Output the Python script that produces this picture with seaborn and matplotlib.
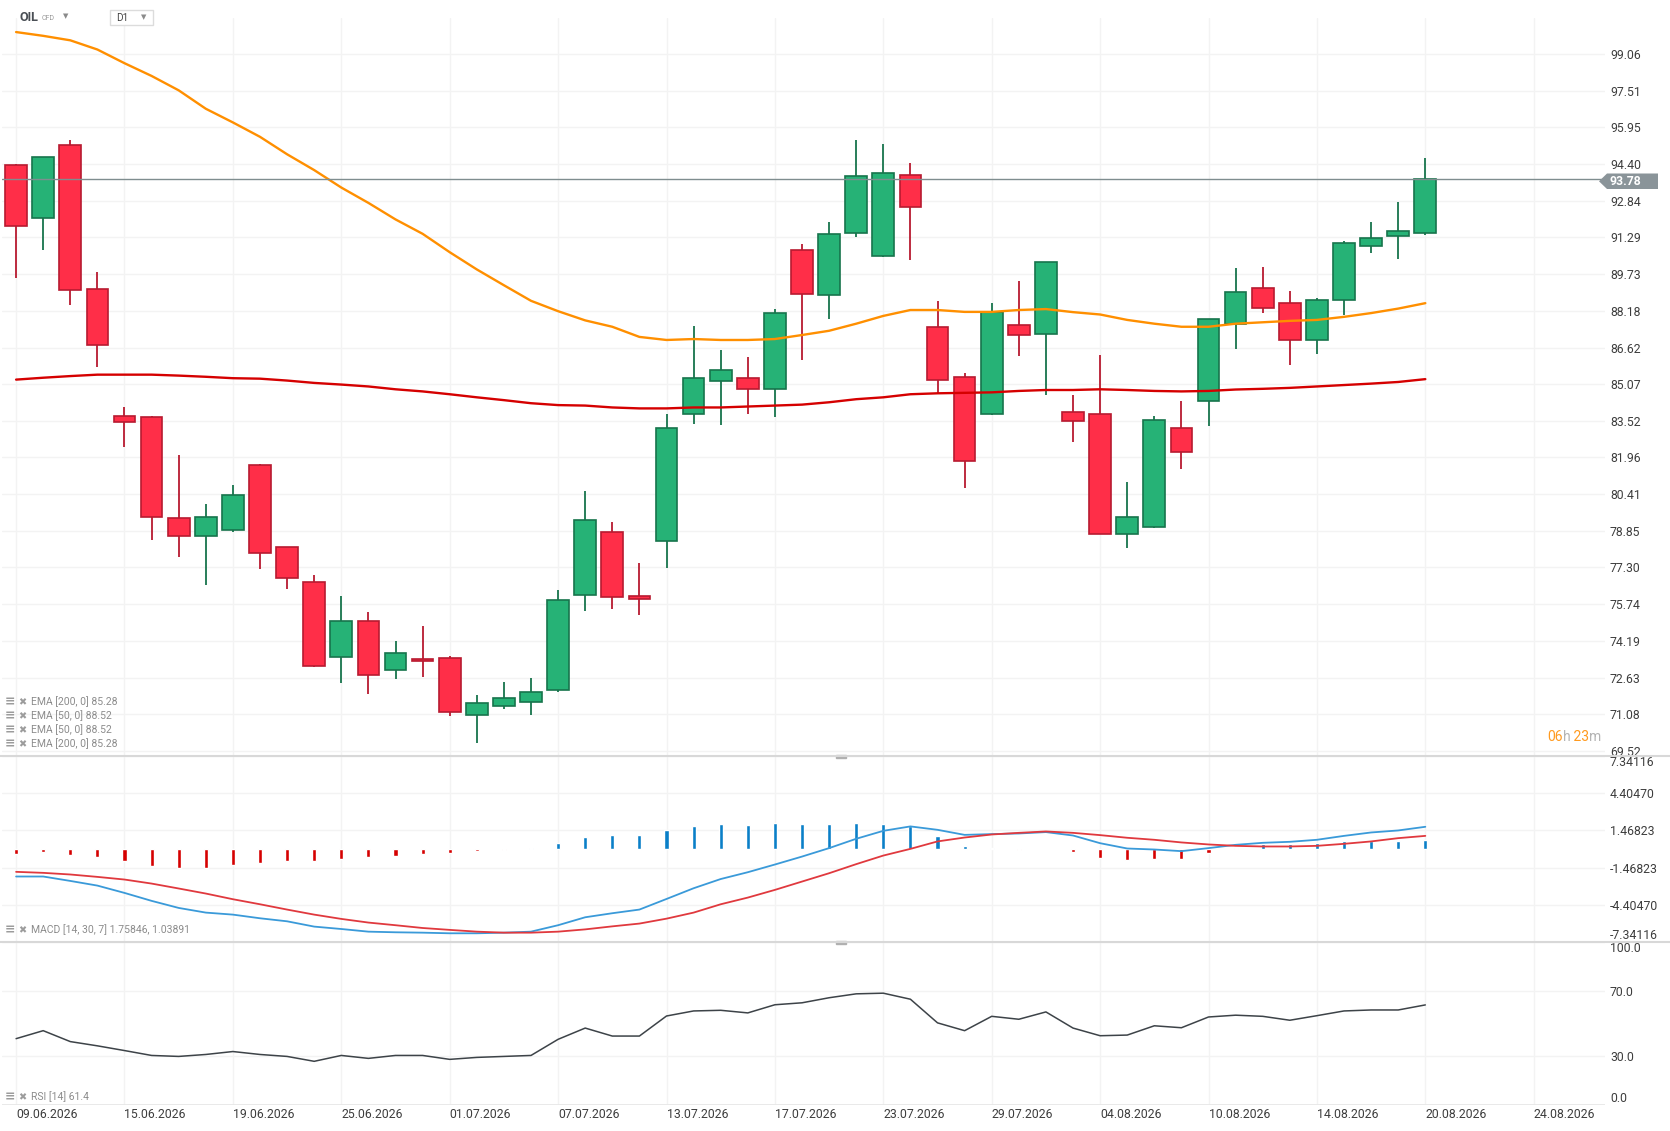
import numpy as np
import matplotlib
matplotlib.use("Agg")
import matplotlib.pyplot as plt
import seaborn as sns
from matplotlib.lines import Line2D
from matplotlib.patches import Polygon, Rectangle

# ==========================
# Data
# ==========================
date_labels = ["09.06.2026", "15.06.2026", "19.06.2026", "25.06.2026", "01.07.2026",
               "07.07.2026", "13.07.2026", "17.07.2026", "23.07.2026", "29.07.2026",
               "04.08.2026", "10.08.2026", "14.08.2026", "20.08.2026", "24.08.2026"]

opens = [94.37, 92.13, 95.20, 89.10, 83.72, 83.68, 79.39, 78.64, 78.87, 81.63,
         78.18, 76.69, 73.52, 75.05, 72.96, 73.43, 73.47, 71.03, 71.42, 71.59,
         72.10, 76.13, 78.81, 76.09, 78.43, 83.81, 85.20, 85.32, 84.85, 90.74,
         88.85, 91.47, 90.49, 93.93, 87.50, 85.39, 83.81, 87.58, 87.21, 83.89,
         83.79, 78.70, 79.03, 83.21, 84.37, 87.63, 89.14, 88.50, 86.96, 88.64,
         90.91, 91.34, 91.47]
highs = [94.40, 94.70, 95.41, 89.80, 84.12, 83.72, 82.07, 79.99, 80.80, 81.67,
         78.18, 76.96, 76.09, 75.42, 74.20, 74.82, 73.53, 71.88, 72.46, 72.60,
         76.34, 80.55, 79.22, 77.50, 83.81, 87.52, 86.51, 86.22, 88.27, 91.01,
         91.94, 95.41, 95.26, 94.45, 88.58, 85.55, 88.52, 89.45, 90.24, 84.62,
         86.30, 80.92, 83.72, 84.37, 87.83, 90.01, 90.05, 89.02, 88.73, 91.13,
         91.94, 92.77, 94.66]
lows = [89.56, 90.74, 88.43, 85.78, 82.40, 78.47, 77.75, 76.57, 78.80, 77.25,
        76.40, 73.08, 72.40, 71.94, 72.58, 72.66, 71.01, 69.87, 71.32, 71.03,
        72.04, 75.44, 75.55, 75.30, 77.29, 83.37, 83.33, 83.79, 83.68, 86.11,
        87.83, 91.32, 90.45, 90.32, 84.68, 80.65, 83.75, 86.28, 84.60, 82.60,
        78.70, 78.12, 78.95, 81.48, 83.29, 86.57, 88.08, 85.86, 86.36, 88.00,
        90.61, 90.39, 91.40]
closes = [91.76, 94.70, 89.06, 86.73, 83.45, 79.45, 78.64, 79.43, 80.38, 77.93,
          76.84, 73.14, 75.01, 72.75, 73.68, 73.33, 71.17, 71.57, 71.75, 72.00,
          75.90, 79.31, 76.03, 75.98, 83.23, 85.32, 85.65, 84.85, 88.10, 88.89,
          91.42, 93.89, 94.02, 92.59, 85.24, 81.80, 88.14, 87.17, 90.24, 83.50,
          78.70, 79.43, 83.56, 82.21, 87.83, 88.97, 88.31, 86.92, 88.64, 91.07,
          91.28, 91.57, 93.78]

ema50 = [99.99, 99.83, 99.64, 99.25, 98.67, 98.13, 97.52, 96.74, 96.16, 95.55, 94.81,
         94.14, 93.40, 92.75, 92.05, 91.44, 90.66, 89.93, 89.26, 88.60, 88.16, 87.77,
         87.50, 87.07, 86.94, 86.98, 86.94, 86.94, 86.98, 87.15, 87.33, 87.63,
         87.96, 88.21, 88.21, 88.13, 88.13, 88.21, 88.25, 88.12, 88.02, 87.79, 87.63,
         87.50, 87.50, 87.63, 87.69, 87.75, 87.79, 87.92, 88.08, 88.27, 88.50]
ema200 = [85.26, 85.34, 85.41, 85.47, 85.47, 85.47, 85.43, 85.38, 85.32, 85.30, 85.22,
          85.12, 85.05, 84.97, 84.85, 84.76, 84.64, 84.51, 84.39, 84.26, 84.18, 84.16,
          84.08, 84.04, 84.04, 84.08, 84.08, 84.12, 84.16, 84.20, 84.30, 84.43,
          84.51, 84.64, 84.68, 84.70, 84.72, 84.78, 84.82, 84.82, 84.85, 84.82, 84.78,
          84.76, 84.78, 84.84, 84.87, 84.91, 84.97, 85.03, 85.09, 85.16, 85.28]

macd_line = [-2.18, -2.18, -2.53, -2.90, -3.48, -4.11, -4.67, -5.04, -5.20, -5.49,
             -5.73, -6.15, -6.34, -6.55, -6.60, -6.63, -6.68, -6.68, -6.63, -6.55,
             -6.04, -5.41, -5.09, -4.80, -3.96, -3.11, -2.38, -1.84, -1.23, -0.60,
             0.07, 0.81, 1.44, 1.79, 1.52, 1.12, 1.18, 1.23, 1.34, 1.07,
             0.46, 0.04, -0.04, -0.17, 0.07, 0.33, 0.49, 0.57, 0.73, 1.04,
             1.31, 1.47, 1.76]
macd_signal = [-1.81, -1.89, -2.02, -2.21, -2.42, -2.74, -3.13, -3.53, -3.98, -4.38,
               -4.80, -5.20, -5.54, -5.83, -6.04, -6.26, -6.41, -6.55, -6.63, -6.63,
               -6.55, -6.37, -6.13, -5.91, -5.52, -5.04, -4.38, -3.85, -3.24, -2.58,
               -1.92, -1.20, -0.52, 0.01, 0.60, 0.91, 1.15, 1.28, 1.39, 1.28,
               1.10, 0.89, 0.73, 0.52, 0.36, 0.25, 0.20, 0.20, 0.25, 0.41,
               0.60, 0.86, 1.04]
macd_hist = [-0.37, -0.20, -0.44, -0.67, -0.94, -1.31, -1.49, -1.49, -1.26, -1.10,
             -0.94, -0.94, -0.78, -0.67, -0.52, -0.38, -0.28, -0.12, -0.05, 0.09,
             0.49, 0.97, 1.12, 1.12, 1.52, 1.84, 2.00, 1.92, 2.08, 2.00,
             2.00, 2.08, 2.00, 1.79, 1.04, 0.25, 0.09, -0.05, 0.00, -0.22,
             -0.70, -0.86, -0.78, -0.78, -0.30, 0.05, 0.41, 0.41, 0.49, 0.65,
             0.65, 0.65, 0.72]

rsi = [40.7, 45.6, 38.9, 36.3, 33.4, 30.4, 29.8, 31.0, 32.8, 31.0,
       29.8, 26.8, 30.4, 28.6, 30.4, 30.4, 28.0, 29.2, 29.8, 30.4,
       40.3, 47.2, 42.3, 42.3, 54.6, 57.7, 58.1, 56.5, 61.5, 62.7,
       65.8, 68.2, 68.6, 64.9, 50.4, 45.6, 54.4, 52.6, 57.1, 47.2,
       42.5, 42.9, 48.6, 47.4, 54.0, 55.1, 54.4, 52.0, 54.8, 57.7,
       58.3, 58.3, 61.4]

price_ticks = [69.52, 71.08, 72.63, 74.19, 75.74, 77.30, 78.85, 80.41, 81.96, 83.52,
               85.07, 86.62, 88.18, 89.73, 91.29, 92.84, 94.40, 95.95, 97.51, 99.06]
macd_ticks = [-7.34116, -4.40470, -1.46823, 1.46823, 4.40470, 7.34116]
rsi_ticks = [0.0, 30.0, 70.0, 100.0]
last_price = 93.78

# ==========================
# Style
# ==========================
GREEN, GREEN_EDGE = "#26b276", "#17744c"
RED, RED_EDGE = "#ff2e48", "#b81a30"
GRID = "#f3f3f3"
TICK = "#3d3d3d"
LEG = "#8c8c8c"

sns.set_theme(style="white")
plt.rcParams["font.family"] = ["Roboto", "DejaVu Sans"]

W, H = 1670, 1131
def fx(px):
    return px / W
def fy(py):
    return 1 - py / H

fig = plt.figure(figsize=(W / 100, H / 100), dpi=100)
left, right = 2, 1605
ax_p = fig.add_axes([fx(left), fy(756), (right - left) / W, (756 - 18) / H])
ax_m = fig.add_axes([fx(left), fy(942), (right - left) / W, (942 - 756) / H])
ax_r = fig.add_axes([fx(left), fy(1105), (right - left) / W, (1105 - 942) / H])

idx = np.arange(len(opens))
xticks = np.arange(0, 4 * len(date_labels), 4)

for ax in (ax_p, ax_m, ax_r):
    ax.set_facecolor("white")
    for s in ax.spines.values():
        s.set_visible(False)
    ax.set_xlim(-0.52, 58.63)
    ax.set_xticks(xticks)
    ax.yaxis.tick_right()
    ax.grid(True, color=GRID, lw=1, zorder=0)
    ax.set_axisbelow(True)
    ax.tick_params(axis="both", length=0, labelsize=8.8, labelcolor=TICK, pad=3.6)
    ax.tick_params(axis="x", labelbottom=False)
    ax.set_xlabel("")
    ax.set_ylabel("")

# ==========================
# Price panel: candles + EMAs
# ==========================
o, h, l, c = (np.array(v) for v in (opens, highs, lows, closes))
up = c >= o
body_bot = np.minimum(o, c)
body_h = np.maximum(np.abs(c - o), 0.07)
for mask, fc, ec in ((up, GREEN, GREEN_EDGE), (~up, RED, RED_EDGE)):
    ax_p.vlines(idx[mask], l[mask], h[mask], color=ec, lw=1.3, zorder=2)
    ax_p.bar(idx[mask], body_h[mask], bottom=body_bot[mask], width=0.8,
             color=fc, edgecolor=ec, linewidth=1.2, zorder=3)

sns.lineplot(x=idx, y=ema50, ax=ax_p, color="#ff8f00", lw=1.7, zorder=4)
sns.lineplot(x=idx, y=ema200, ax=ax_p, color="#d50000", lw=1.7, zorder=4)
ax_p.axhline(last_price, color="#7f8d8f", lw=1, zorder=5)

ax_p.set_ylim(69.308, 100.586)
ax_p.set_yticks(price_ticks)
ax_p.set_yticklabels([f"{v:.2f}" for v in price_ticks])

# ==========================
# MACD panel
# ==========================
hist = np.array(macd_hist)
hist_colors = np.where(hist >= 0, "#0a7fc8", "#d50000")
ax_m.bar(idx, hist, width=0.15, color=hist_colors, zorder=2)
sns.lineplot(x=idx, y=macd_line, ax=ax_m, color="#3a9ad9", lw=1.3, zorder=3)
sns.lineplot(x=idx, y=macd_signal, ax=ax_m, color="#e0393e", lw=1.3, zorder=3)
ax_m.set_ylim(-7.37, 7.37)
ax_m.set_yticks(macd_ticks)
ax_m.set_yticklabels([f"{v:.5f}" for v in macd_ticks])
ax_m.get_yticklabels()[0].set_va("bottom")
ax_m.get_yticklabels()[-1].set_va("top")

# ==========================
# RSI panel
# ==========================
sns.lineplot(x=idx, y=rsi, ax=ax_r, color="#3d4348", lw=1.1, zorder=3)
ax_r.set_ylim(0, 100)
ax_r.set_yticks(rsi_ticks)
ax_r.set_yticklabels([f"{v:.1f}" for v in rsi_ticks])
ax_r.get_yticklabels()[0].set_va("bottom")
ax_r.get_yticklabels()[-1].set_va("top")
ax_r.tick_params(axis="x", labelbottom=True, pad=2)
ax_r.set_xticklabels(date_labels, ha="left")
ax_r.axhline(0, color="#e6e6e6", lw=1.2)

# ==========================
# Decorations
# ==========================
for ysep in (756, 942):
    fig.add_artist(Line2D([0, 1], [fy(ysep), fy(ysep)], transform=fig.transFigure,
                          color="#d8d8d8", lw=1.5))
    fig.add_artist(Rectangle((fx(836), fy(ysep + 2)), 10 / W, 3 / H,
                             transform=fig.transFigure, color="#b0b0b0"))

# last price tag
tag = [(1599, 181.3), (1607, 173.5), (1658, 173.5), (1658, 189), (1607, 189)]
fig.add_artist(Polygon([(fx(x), fy(y)) for x, y in tag], closed=True,
                       transform=fig.transFigure, fc="#8a9499", ec="none"))
fig.text(fx(1610), fy(181.5), f"{last_price:.2f}", color="white", fontsize=8.8,
         weight="bold", va="center", ha="left")

# header
fig.text(fx(19), fy(17.5), "OIL", fontsize=9, weight="bold", color="#4a4f55", va="center")
fig.text(fx(42), fy(18.5), "CFD", fontsize=5, color="#9a9a9a", va="center")
fig.text(fx(63), fy(16.5), "▼", fontsize=5, color="#8a8a8a", va="center",
         family="DejaVu Sans")
fig.add_artist(Rectangle((fx(110), fy(25)), 43 / W, 15 / H, transform=fig.transFigure,
                         fc="white", ec="#dcdcdc", lw=1))
fig.text(fx(116), fy(18), "D1", fontsize=7.2, color="#444444", va="center")
fig.text(fx(141), fy(17), "▼", fontsize=5, color="#8a8a8a", va="center",
         family="DejaVu Sans")

# indicator legends
legend_rows = [(702, "EMA [200, 0] 85.28"), (716, "EMA [50, 0] 88.52"),
               (730, "EMA [50, 0] 88.52"), (744, "EMA [200, 0] 85.28"),
               (930, "MACD [14, 30, 7] 1.75846, 1.03891"), (1097, "RSI [14] 61.4")]
for ypx, label in legend_rows:
    fig.text(fx(5), fy(ypx), "≡", fontsize=9, color="#9c9c9c", va="center",
             family="DejaVu Sans", weight="bold")
    fig.text(fx(18), fy(ypx), "✖", fontsize=7, color="#9c9c9c", va="center",
             family="DejaVu Sans")
    fig.text(fx(31), fy(ypx), label, fontsize=7.5, color=LEG, va="center")

# candle countdown
t = fig.text(fx(1547), fy(737), "06", fontsize=10, color="#ff9a1f", va="center")
for part, col in (("h", "#b4b4b4"), (" 23", "#ff9a1f"), ("m", "#b4b4b4")):
    t = ax_p.annotate(part, xy=(1, 0), xycoords=t, va="bottom", ha="left",
                      fontsize=10, color=col, annotation_clip=False)

fig.savefig("out.png", dpi=100)
